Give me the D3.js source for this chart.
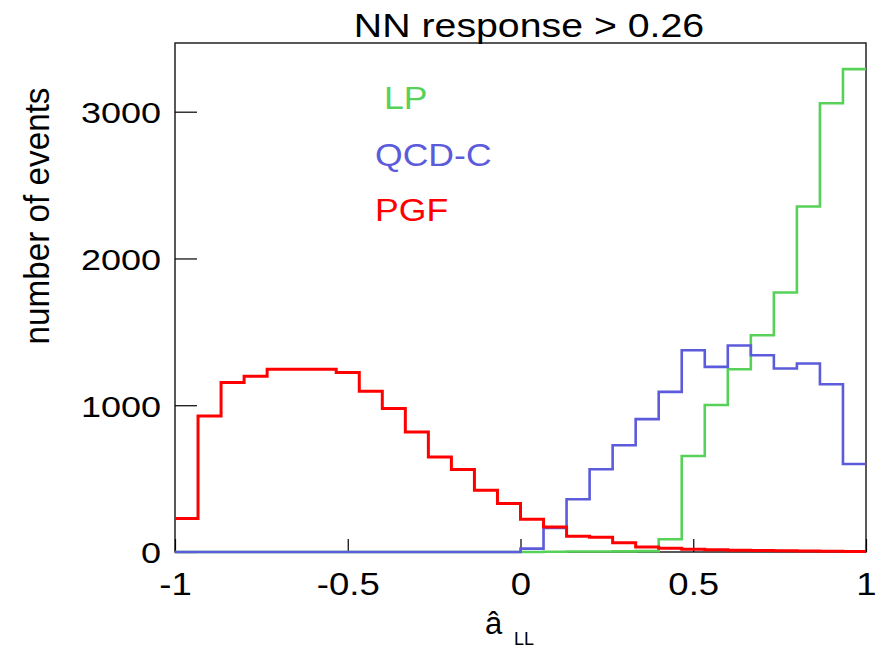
<!DOCTYPE html>
<html>
<head>
<meta charset="utf-8">
<script src="https://cdn.jsdelivr.net/npm/d3@7"></script>
<style>
	body { margin: 0; background: #fff; }
	svg { display: block; font-family: "Liberation Sans", Arial, sans-serif; }
</style>
</head>
<body>
<div id="chart"></div>
<script>
// histogram of a_LL, 30 bins between -1 and 1
const xRange = [-1, 1];
const nBins = 30;
const xTicks = [-1, -0.5, 0, 0.5, 1];
const yTicks = [0, 1000, 2000, 3000];

const seriesNames = ["LP", "QCD-C", "PGF"];
const seriesColors = ["#58d158", "#5b5bdc", "#ff0000"];

const lp = [0, 0, 0, 0, 0, 0, 0, 0, 0, 0, 0, 0, 0, 0, 0,
	0, 2, 3, 3, 4, 6, 87, 654, 1002, 1245, 1477, 1768, 2354, 3057, 3290];
const qcdc = [0, 0, 0, 0, 0, 0, 0, 0, 0, 0, 0, 0, 0, 0, 0,
	23, 164, 359, 564, 727, 905, 1091, 1375, 1261, 1407, 1341, 1250, 1284, 1143, 600];
const pgf = [228, 927, 1155, 1198, 1245, 1245, 1245, 1223, 1095, 977, 818, 648, 562, 421, 330,
	223, 170, 107, 100, 63, 34, 26, 18, 15, 12, 10, 8, 6, 5, 3];

const width = 881;
const height = 651;
const margin = { left: 175, right: 866, top: 43, bottom: 552 };

const edges = d3.range(nBins + 1).map((i) => xRange[0] + i * (xRange[1] - xRange[0]) / nBins);

const x = d3.scaleLinear().domain(xRange).range([margin.left, margin.right]);
const y = d3.scaleLinear().domain([0, 3468]).range([margin.bottom, margin.top]);

const svg = d3.select("#chart")
	.append("svg")
	.attr("width", width)
	.attr("height", height);

// frame
svg.append("rect")
	.attr("x", margin.left)
	.attr("y", margin.top)
	.attr("width", margin.right - margin.left)
	.attr("height", margin.bottom - margin.top)
	.attr("fill", "none")
	.attr("stroke", "#222")
	.attr("stroke-width", 1.5);

const xAxis = svg.append("g")
	.attr("transform", `translate(0, ${margin.bottom})`)
	.call(d3.axisBottom(x)
		.tickValues(xTicks)
		.tickSize(-13)
		.tickFormat((d) => String(d))
	);

const yAxis = svg.append("g")
	.attr("transform", `translate(${margin.left}, 0)`)
	.call(d3.axisLeft(y)
		.tickValues(yTicks)
		.tickSize(-22)
		.tickFormat((d) => String(d))
	);

for (const g of [xAxis, yAxis]) {
	g.select(".domain").remove();
	g.selectAll(".tick line").attr("stroke", "#000").attr("stroke-width", 1.2);
	g.selectAll(".tick text").attr("fill", "#000");
}

xAxis.selectAll(".tick text")
	.attr("y", 0)
	.attr("dy", 0)
	.attr("font-size", 31.5)
	.attr("transform", "translate(0, 43) scale(1.16, 1)");

yAxis.selectAll(".tick text")
	.attr("x", 0)
	.attr("dy", "0.36em")
	.attr("font-size", 30)
	.attr("transform", "translate(-14, 0) scale(1.2, 1)");

// histograms, drawn green first so blue and red sit on top
const step = d3.line()
	.x((d) => x(d[0]))
	.y((d) => y(d[1]))
	.curve(d3.curveStepAfter);

const series = [lp, qcdc, pgf];
const lineWidths = [2.6, 2.6, 3];

series.forEach((values, k) => {
	const pts = values.map((v, i) => [edges[i], v]);
	pts.push([edges[nBins], values[nBins - 1]]);
	svg.append("path")
		.datum(pts)
		.attr("fill", "none")
		.attr("stroke", seriesColors[k])
		.attr("stroke-width", lineWidths[k])
		.attr("d", step);
});

// legend
const legendPos = [[384, 109], [375, 166], [375, 221]];
svg.selectAll(".legend").data(seriesNames).enter()
	.append("text")
	.attr("class", "legend")
	.attr("fill", (d, i) => seriesColors[i])
	.attr("font-size", 31.5)
	.attr("transform", (d, i) => `translate(${legendPos[i][0]}, ${legendPos[i][1]}) scale(1.13, 1)`)
	.text((d) => d);

// title
svg.append("text")
	.attr("text-anchor", "middle")
	.attr("font-size", 34)
	.attr("transform", "translate(529, 37) scale(1.155, 1)")
	.text("NN response > 0.26");

// axis titles
svg.append("text")
	.attr("text-anchor", "middle")
	.attr("font-size", 32)
	.attr("transform", "translate(49, 216) rotate(-90) scale(1.04, 1.08)")
	.text("number of events");

const xLabel = svg.append("text")
	.attr("x", 485)
	.attr("y", 634)
	.attr("font-size", 31);
xLabel.append("tspan").text("â");
xLabel.append("tspan")
	.attr("x", 514)
	.attr("y", 645)
	.attr("font-size", 18)
	.text("LL");
</script>
</body>
</html>
